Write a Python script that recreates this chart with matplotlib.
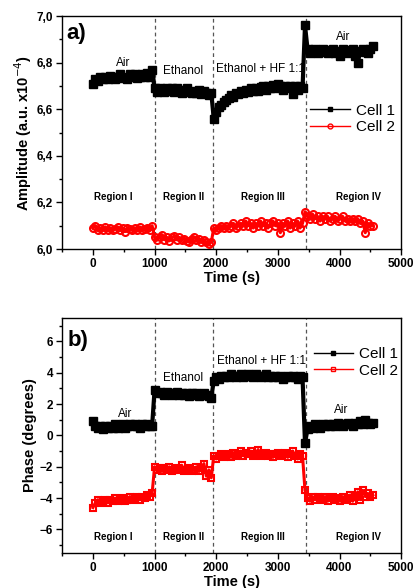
import numpy as np
import matplotlib
matplotlib.use("Agg")
import matplotlib.pyplot as plt
from matplotlib.ticker import MultipleLocator, FuncFormatter

plt.rcParams['font.family'] = ['Liberation Sans', 'DejaVu Sans']

# ---- data ----
region_bounds = [0, 1000, 1960, 3440, 4540]
switch_times = [1000, 1950, 3450]

amp_cell1 = [
    [6.71, 6.73, 6.72, 6.74, 6.73, 6.74, 6.73, 6.745, 6.74, 6.73, 6.74, 6.75, 6.735, 6.74, 6.73, 6.75, 6.74, 6.75, 6.735, 6.74, 6.75, 6.74, 6.755, 6.74, 6.77],
    [6.69, 6.675, 6.69, 6.68, 6.675, 6.69, 6.68, 6.69, 6.675, 6.69, 6.68, 6.67, 6.685, 6.69, 6.675, 6.67, 6.68, 6.67, 6.685, 6.665, 6.68, 6.67, 6.66, 6.67],
    [6.56, 6.59, 6.61, 6.62, 6.63, 6.64, 6.65, 6.66, 6.655, 6.67, 6.665, 6.68, 6.67, 6.685, 6.675, 6.69, 6.68, 6.69, 6.68, 6.695, 6.70, 6.685, 6.70, 6.69, 6.705, 6.69, 6.71, 6.70, 6.685, 6.70, 6.69, 6.70, 6.665, 6.70, 6.685, 6.70, 6.69],
    [6.96, 6.86, 6.84, 6.85, 6.86, 6.84, 6.855, 6.86, 6.845, 6.84, 6.855, 6.86, 6.84, 6.85, 6.83, 6.86, 6.845, 6.84, 6.855, 6.86, 6.83, 6.80, 6.85, 6.86, 6.845, 6.84, 6.86, 6.87],
]
amp_cell2 = [
    [6.09, 6.10, 6.08, 6.09, 6.08, 6.095, 6.08, 6.09, 6.08, 6.085, 6.095, 6.08, 6.09, 6.075, 6.09, 6.085, 6.08, 6.09, 6.08, 6.095, 6.08, 6.085, 6.09, 6.08, 6.10],
    [6.05, 6.04, 6.05, 6.06, 6.04, 6.05, 6.035, 6.05, 6.055, 6.04, 6.05, 6.04, 6.045, 6.035, 6.03, 6.045, 6.05, 6.04, 6.045, 6.03, 6.04, 6.03, 6.02, 6.03],
    [6.09, 6.08, 6.09, 6.10, 6.09, 6.10, 6.09, 6.10, 6.11, 6.09, 6.10, 6.11, 6.10, 6.12, 6.10, 6.11, 6.09, 6.11, 6.10, 6.12, 6.10, 6.11, 6.09, 6.11, 6.12, 6.10, 6.11, 6.07, 6.11, 6.10, 6.12, 6.09, 6.11, 6.10, 6.12, 6.09, 6.11],
    [6.16, 6.14, 6.13, 6.15, 6.13, 6.14, 6.12, 6.14, 6.13, 6.14, 6.12, 6.13, 6.14, 6.12, 6.13, 6.14, 6.12, 6.13, 6.12, 6.13, 6.12, 6.13, 6.11, 6.12, 6.07, 6.11, 6.10, 6.10],
]
phase_cell1 = [
    [0.9, 0.6, 0.5, 0.6, 0.4, 0.6, 0.5, 0.6, 0.5, 0.7, 0.5, 0.6, 0.7, 0.5, 0.6, 0.7, 0.6, 0.7, 0.6, 0.5, 0.7, 0.6, 0.7, 0.6, 0.6],
    [2.9, 2.7, 2.8, 2.7, 2.6, 2.8, 2.7, 2.6, 2.7, 2.8, 2.6, 2.7, 2.6, 2.7, 2.5, 2.7, 2.6, 2.7, 2.5, 2.6, 2.7, 2.6, 2.5, 2.4],
    [3.5, 3.7, 3.6, 3.8, 3.7, 3.8, 3.7, 3.9, 3.8, 3.7, 3.8, 3.9, 3.7, 3.8, 3.9, 3.8, 3.7, 3.9, 3.8, 3.7, 3.8, 3.9, 3.7, 3.8, 3.7, 3.8, 3.7, 3.8, 3.6, 3.7, 3.8, 3.7, 3.8, 3.7, 3.6, 3.8, 3.7],
    [-0.5, 0.4, 0.6, 0.5, 0.7, 0.6, 0.5, 0.7, 0.6, 0.7, 0.6, 0.7, 0.6, 0.8, 0.7, 0.6, 0.7, 0.8, 0.7, 0.6, 0.8, 0.7, 0.9, 0.7, 1.0, 0.8, 0.7, 0.8],
]
phase_cell2 = [
    [-4.6, -4.3, -4.1, -4.3, -4.2, -4.1, -4.3, -4.1, -4.2, -4.0, -4.2, -4.1, -4.0, -4.2, -4.1, -3.9, -4.1, -4.0, -3.9, -4.1, -3.9, -4.0, -3.8, -3.9, -3.7],
    [-2.0, -2.2, -2.1, -2.3, -2.1, -2.2, -2.0, -2.3, -2.2, -2.1, -2.2, -1.9, -2.3, -2.2, -2.1, -2.3, -2.2, -2.0, -2.3, -2.1, -1.8, -2.6, -2.2, -2.7],
    [-1.3, -1.5, -1.3, -1.2, -1.4, -1.3, -1.2, -1.4, -1.1, -1.3, -1.2, -1.0, -1.3, -1.1, -1.2, -1.0, -1.3, -1.2, -0.9, -1.3, -1.2, -1.1, -1.3, -1.2, -1.4, -1.2, -1.1, -1.3, -1.2, -1.1, -1.4, -1.2, -1.0, -1.3, -1.5, -1.2, -1.3],
    [-3.5, -4.0, -4.2, -3.9, -4.1, -3.9, -4.0, -4.1, -3.9, -4.2, -4.0, -3.9, -4.1, -4.0, -4.2, -3.9, -4.1, -4.0, -3.8, -4.2, -3.9, -3.6, -4.1, -3.5, -3.9, -3.7, -3.9, -3.8],
]

region_labels = ["Region I", "Region II", "Region III", "Region IV"]
region_label_x = [325, 1475, 2760, 4300]
gas_labels_a = [("Air", 495, 6.80), ("Ethanol", 1470, 6.765), ("Ethanol + HF 1:1", 2715, 6.772), ("Air", 4060, 6.91)]
gas_labels_b = [("Air", 520, 1.35), ("Ethanol", 1470, 3.65), ("Ethanol + HF 1:1", 2730, 4.75), ("Air", 4020, 1.6)]


def series(segments):
    t, v = [], []
    for i, seg in enumerate(segments):
        start = region_bounds[i]
        end = region_bounds[i + 1] - (40 if i < 3 else 0)
        t.extend(np.linspace(start, end, len(seg)))
        v.extend(seg)
    return np.array(t), np.array(v)


def comma(x, pos):
    return ("%.1f" % x).replace(".", ",")


fig = plt.figure(figsize=(4.14, 5.88), dpi=100)
ax1 = fig.add_axes([0.150, 0.5765, 0.819, 0.396])
ax2 = fig.add_axes([0.150, 0.0595, 0.819, 0.400])

for ax in (ax1, ax2):
    for s in ax.spines.values():
        s.set_linewidth(1.0)
    ax.set_xlim(-500, 5000)
    ax.xaxis.set_major_locator(MultipleLocator(1000))
    ax.xaxis.set_minor_locator(MultipleLocator(500))
    ax.tick_params(which='major', direction='out', length=4, width=1, labelsize=8.5, pad=2.5)
    ax.tick_params(which='minor', direction='out', length=2.5, width=1)
    ax.set_xlabel("Time (s)", fontsize=10.5, fontweight='bold', labelpad=1)
    for xs in switch_times:
        ax.axvline(xs, color='#555555', linestyle=(0, (3, 2.5)), linewidth=0.9, zorder=1)

# ---- panel a ----
t, v = series(amp_cell1)
ax1.plot(t, v, color='black', marker='s', markersize=5.4, linewidth=3.0, label='Cell 1', zorder=3)
t, v = series(amp_cell2)
ax1.plot(t, v, color='red', marker='o', markersize=5.0, mfc='none', mew=1.5, linewidth=2.2, label='Cell 2', zorder=3)
ax1.set_ylim(6.0, 7.0)
ax1.yaxis.set_major_locator(MultipleLocator(0.2))
ax1.yaxis.set_minor_locator(MultipleLocator(0.1))
ax1.yaxis.set_major_formatter(FuncFormatter(comma))
ax1.set_ylabel("Amplitude (a.u. x10$^{-4}$)", fontsize=10.5, fontweight='bold', labelpad=2)
ax1.text(-430, 6.925, "a)", fontsize=16, fontweight='bold', va='center', ha='left')
for txt, x, y in gas_labels_a:
    ax1.text(x, y, txt, fontsize=8.5, ha='center', va='center')
for txt, x in zip(region_labels, region_label_x):
    ax1.text(x, 6.222, txt, fontsize=7, fontweight='bold', ha='center', va='center')
leg = ax1.legend(loc='upper left', bbox_to_anchor=(0.70, 0.67), frameon=False, fontsize=11,
                 handlelength=2.6, handletextpad=0.4, labelspacing=0.15, borderpad=0.2)
for h in leg.get_lines():
    h.set_linewidth(1.0)
    h.set_markersize(3.5)
    h.set_markeredgewidth(1.0)

# ---- panel b ----
t, v = series(phase_cell1)
ax2.plot(t, v, color='black', marker='s', markersize=5.4, linewidth=3.0, label='Cell 1', zorder=3)
t, v = series(phase_cell2)
ax2.plot(t, v, color='red', marker='s', markersize=4.6, mfc='none', mew=1.5, linewidth=2.2, label='Cell 2', zorder=3)
ax2.set_ylim(-7.5, 7.5)
ax2.yaxis.set_major_locator(MultipleLocator(2))
ax2.yaxis.set_minor_locator(MultipleLocator(1))
ax2.set_ylabel("Phase (degrees)", fontsize=10.5, fontweight='bold', labelpad=2)
ax2.text(-410, 6.05, "b)", fontsize=16, fontweight='bold', va='center', ha='left')
for txt, x, y in gas_labels_b:
    ax2.text(x, y, txt, fontsize=8.5, ha='center', va='center')
for txt, x in zip(region_labels, region_label_x):
    ax2.text(x, -6.5, txt, fontsize=7, fontweight='bold', ha='center', va='center')
leg = ax2.legend(loc='upper left', bbox_to_anchor=(0.71, 0.92), frameon=False, fontsize=11,
                 handlelength=2.6, handletextpad=0.4, labelspacing=0.15, borderpad=0.2)
for h in leg.get_lines():
    h.set_linewidth(1.0)
    h.set_markersize(3.5)
    h.set_markeredgewidth(1.0)

for ax in (ax1, ax2):
    for lab in ax.get_xticklabels() + ax.get_yticklabels():
        lab.set_fontweight('bold')

fig.savefig("out.png", dpi=100)
